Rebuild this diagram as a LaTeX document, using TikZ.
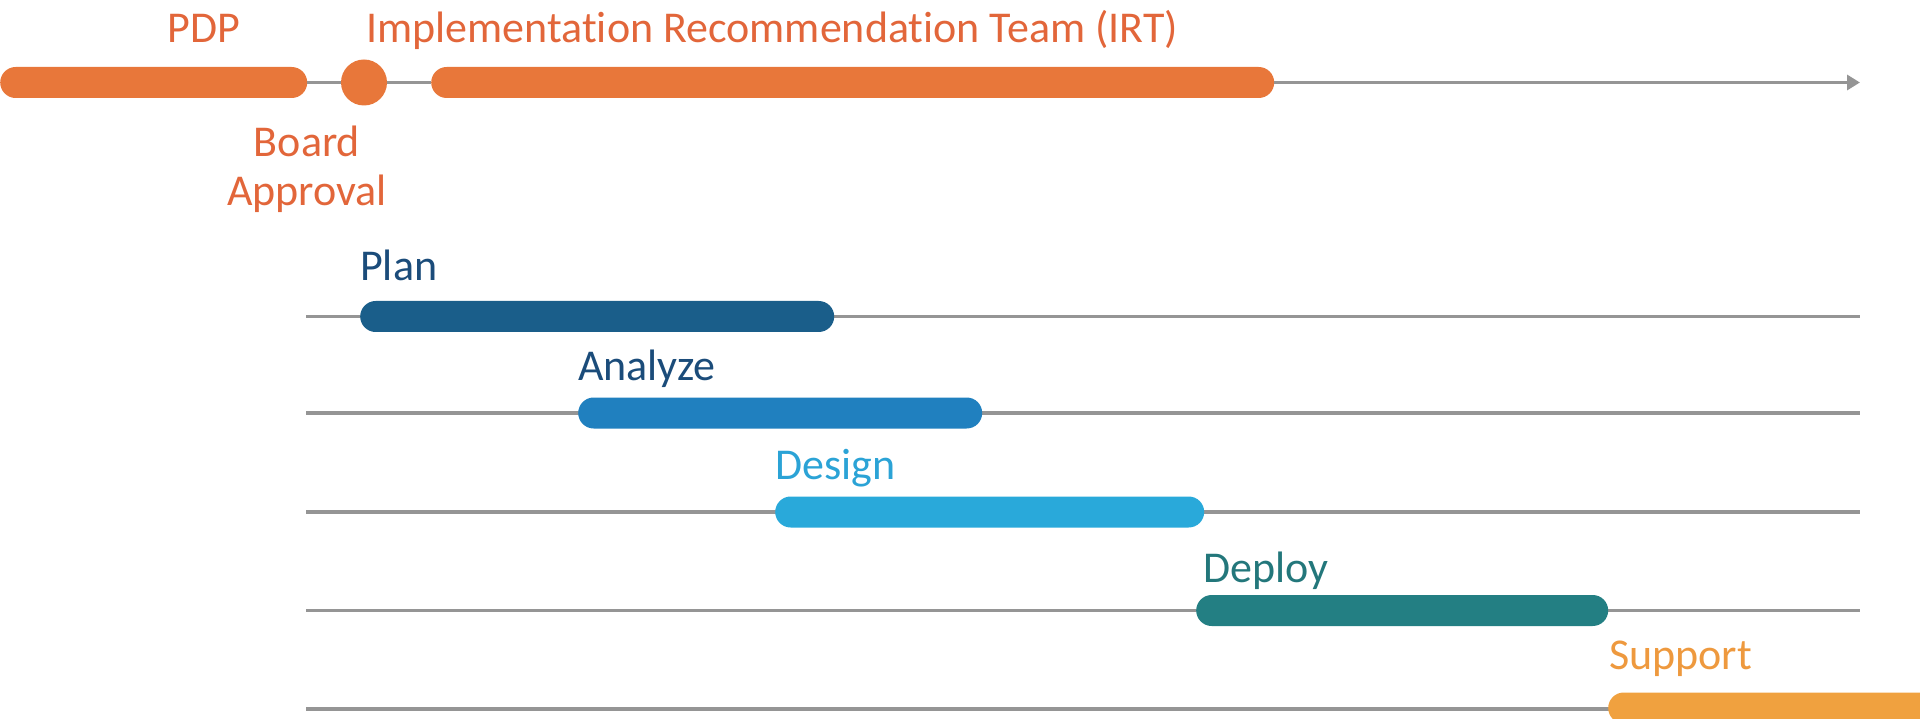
\documentclass[tikz,border=0pt]{standalone}
\usepackage{fontspec}
\setmainfont[Ligatures={NoCommon}]{Carlito}
\usetikzlibrary{arrows.meta}
\definecolor{orgbar}{HTML}{E8773A}
\definecolor{orgtxt}{HTML}{E2663A}
\definecolor{planc}{HTML}{1A5E8A}
\definecolor{plantxt}{HTML}{1B4C7A}
\definecolor{anac}{HTML}{2080BF}
\definecolor{desc}{HTML}{29A9DA}
\definecolor{destxt}{HTML}{2BA3D6}
\definecolor{depc}{HTML}{237F83}
\definecolor{deptxt}{HTML}{23777B}
\definecolor{supc}{HTML}{F0A13F}
\definecolor{suptxt}{HTML}{EE993E}
\definecolor{axis}{HTML}{959595}
\tikzset{
  bar/.style={rectangle, rounded corners=15.5pt, minimum height=31pt, inner sep=0pt, anchor=west, draw=none},
  axisline/.style={draw=axis, line width=3.5pt},
  lbl/.style={inner sep=0pt, font=\fontsize{44}{49}\selectfont},
}
\begin{document}
\begin{tikzpicture}[x=1pt,y=-1pt]
\useasboundingbox (0,0) rectangle (1920,719);
\clip (0,0) rectangle (1920,719);
% top row
\coordinate (topend) at (1860,82.5);
\node[bar, fill=orgbar, minimum width=307pt] (pdp) at (0,82.5) {};
\node[circle, fill=orgbar, minimum size=46pt, inner sep=0pt] (board) at (364,82.5) {};
\node[bar, fill=orgbar, minimum width=843pt] (irt) at (431,82.5) {};
\draw[axisline] (pdp.east) -- (board.west);
\draw[axisline] (board.east) -- (irt.west);
\draw[axisline, -{Triangle[length=13pt,width=15pt]}] (irt.east) -- (topend);
\node[lbl, text=orgtxt, anchor=base] (pdpt) at (204,43) {PDP};
\node[lbl, text=orgtxt, anchor=base west] (irtt) at (366,43) {Implementation Recommendation Team (IRT)};
\node[lbl, text=orgtxt, anchor=base] (boardt) at (307,157) {Board};
\node[lbl, text=orgtxt, anchor=base] (boardt2) at (307,206) {Approval};
% rows
\foreach \yy/\nm in {316.5/r1, 413/r2, 512/r3, 610.5/r4, 709/r5} {
  \coordinate (\nm a) at (306,\yy);
  \coordinate (\nm b) at (1860,\yy);
  \draw[axisline] (\nm a) -- (\nm b);
}
\node[bar, fill=planc, minimum width=474pt] (plan) at (360,316.5) {};
\node[bar, fill=anac, minimum width=404pt] (ana) at (578,413) {};
\node[bar, fill=desc, minimum width=429pt] (des) at (775,512) {};
\node[bar, fill=depc, minimum width=412pt] (dep) at (1196,610.5) {};
\node[bar, fill=supc, minimum width=340pt] (sup) at (1608,708) {};
\node[lbl, text=plantxt, anchor=base west] (plant) at (360,281) {Plan};
\node[lbl, text=plantxt, anchor=base west] (anat) at (578,381) {Analyze};
\node[lbl, text=destxt, anchor=base west] (dest) at (775,479) {Design};
\node[lbl, text=deptxt, anchor=base west] (dept) at (1203,582) {Deploy};
\node[lbl, text=suptxt, anchor=base west] (supt) at (1609,669) {Support};
\end{tikzpicture}
\end{document}
